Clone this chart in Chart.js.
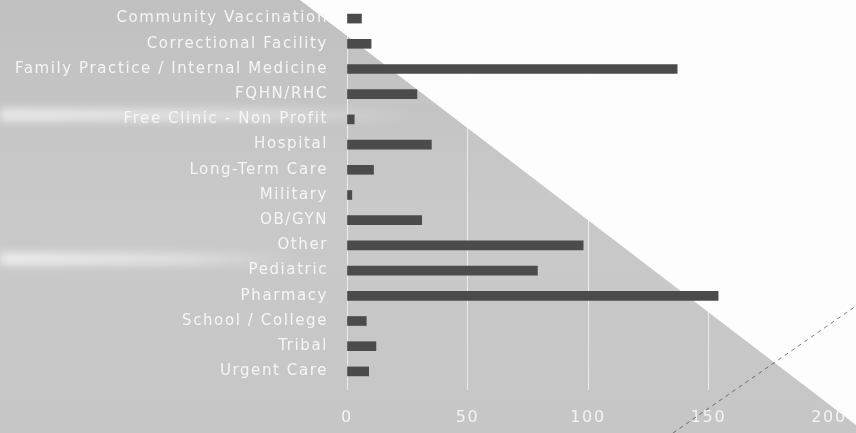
<!DOCTYPE html>
<html>
<head>
<meta charset="utf-8">
<script src="https://cdn.jsdelivr.net/npm/chart.js@4/dist/chart.umd.min.js"></script>
<style>
  html, body { margin: 0; padding: 0; background: #c8c8c8; }
  #wrap { width: 856px; height: 433px; position: relative; }
</style>
</head>
<body>
<div id="wrap"><canvas id="chart"></canvas></div>
<script>
const categories = [
    'Community Vaccination', 'Correctional Facility', 'Family Practice / Internal Medicine',
    'FQHN/RHC', 'Free Clinic - Non Profit', 'Hospital', 'Long-Term Care', 'Military',
    'OB/GYN', 'Other', 'Pediatric', 'Pharmacy', 'School / College', 'Tribal', 'Urgent Care'
];
const counts = [6, 10, 137, 29, 3, 35, 11, 2, 31, 98, 79, 154, 8, 12, 9];
const xTicks = [0, 50, 100, 150, 200];

// backdrop: gray paper, light streaks, white triangle, dashed stroke
const backdrop = {
    id: 'backdrop',
    beforeDraw(chart) {
        const { ctx, width, height } = chart;
        ctx.save();
        const g = ctx.createLinearGradient(0, 0, 0, height);
        g.addColorStop(0, '#c0c0c0');
        g.addColorStop(0.5, '#c9c9c9');
        g.addColorStop(1, '#c6c6c6');
        ctx.fillStyle = g;
        ctx.fillRect(0, 0, width, height);
        [[115, 420, 0.7], [259, 300, 0.75]].forEach(([y, len, a]) => {
            const s = ctx.createLinearGradient(0, 0, len, 0);
            s.addColorStop(0, `rgba(255,255,255,${a})`);
            s.addColorStop(0.6, `rgba(255,255,255,${a * 0.6})`);
            s.addColorStop(1, 'rgba(255,255,255,0)');
            ctx.fillStyle = s;
            ctx.filter = 'blur(5px)';
            ctx.fillRect(0, y - 6, len, 12);
            ctx.filter = 'none';
        });
        ctx.fillStyle = '#fdfdfd';
        ctx.beginPath();
        ctx.moveTo(300, 0);
        ctx.lineTo(width, 0);
        ctx.lineTo(width, 425);
        ctx.closePath();
        ctx.fill();
        ctx.restore();
        ctx.letterSpacing = '1.6px';
    },
    afterDraw(chart) {
        const { ctx } = chart;
        ctx.save();
        ctx.strokeStyle = 'rgba(70,70,70,0.7)';
        ctx.lineWidth = 1;
        ctx.setLineDash([4, 4]);
        ctx.beginPath();
        ctx.moveTo(673, 433);
        ctx.lineTo(856, 306);
        ctx.stroke();
        ctx.restore();
    }
};

new Chart(document.getElementById('chart'), {
    type: 'bar',
    data: {
        labels: categories,
        datasets: [{
            data: counts,
            backgroundColor: '#4b4b4b',
            barThickness: 9,
        }],
    },
    plugins: [backdrop],
    options: {
        indexAxis: 'y',
        responsive: true,
        maintainAspectRatio: false,
        animation: false,
        layout: { padding: { top: 6, right: 27, left: 0, bottom: 0 } },
        plugins: { legend: { display: false }, tooltip: { enabled: false } },
        scales: {
            x: {
                min: 0, max: 200,
                afterBuildTicks: s => { s.ticks = xTicks.map(v => ({ value: v })); },
                grid: { color: 'rgba(255,255,255,0.65)', tickLength: 6, drawTicks: true },
                border: { display: false },
                ticks: { color: '#f4f4f4', padding: 18, font: { family: 'DejaVu Sans', size: 16 } },
                afterFit: s => { s.height = 49; s.paddingLeft = 0; s.paddingRight = 0; },
            },
            y: {
                grid: { display: false },
                border: { display: false },
                ticks: { color: '#f6f6f6', padding: 11, autoSkip: false, font: { family: 'DejaVu Sans', size: 15 } },
                afterFit: s => { s.width = 347; s.paddingTop = 0; s.paddingBottom = 0; },
            },
        },
    },
});
</script>
</body>
</html>
